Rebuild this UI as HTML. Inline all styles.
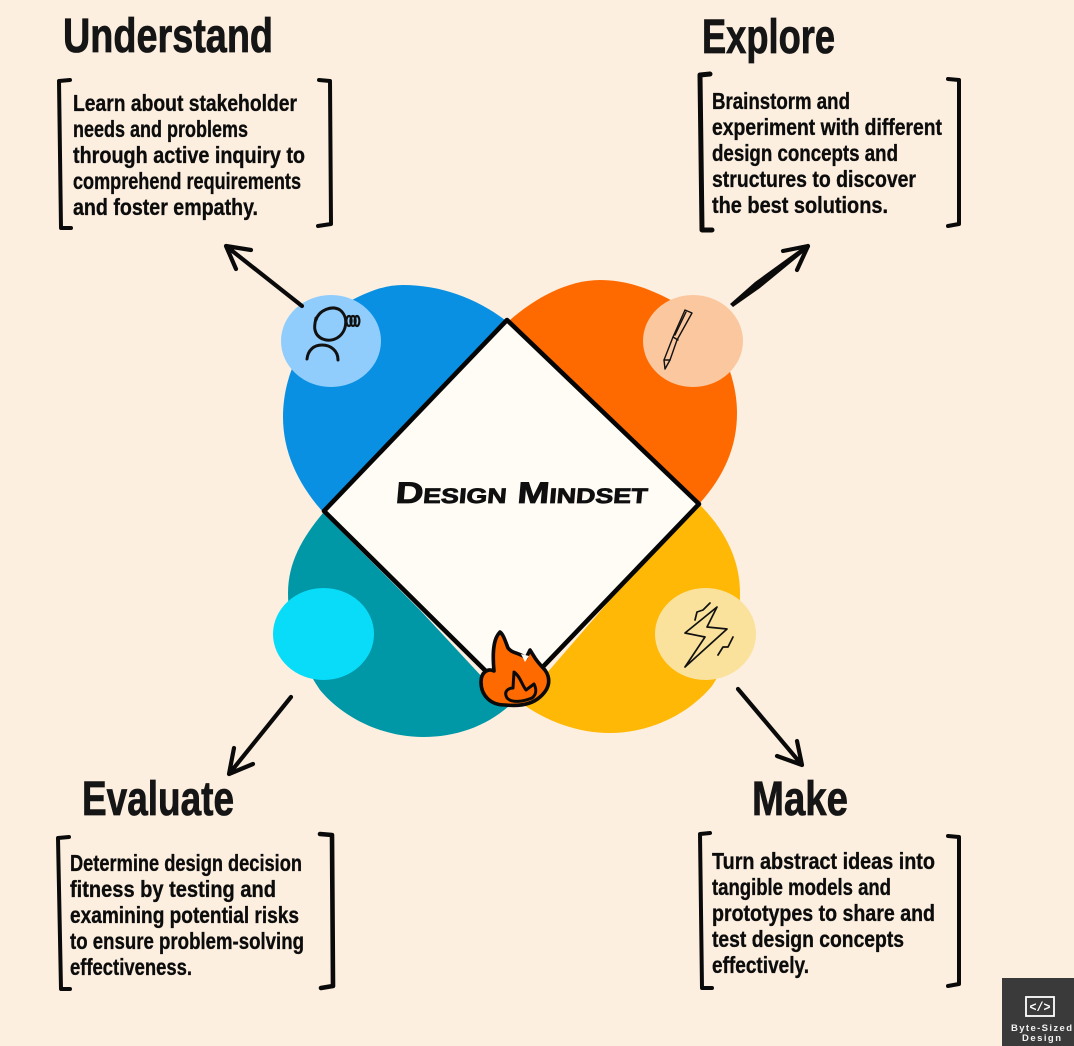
<!DOCTYPE html>
<html><head><meta charset="utf-8"><style>
html,body{margin:0;padding:0;background:#fcefe0}
svg{display:block}
.h{font-family:"Liberation Sans Narrow","Liberation Sans",sans-serif;font-weight:700;font-size:48px;fill:#151515;stroke:#151515;stroke-width:.8}
.b{font-family:"Liberation Sans Narrow","Liberation Sans",sans-serif;font-weight:700;font-size:23px;fill:#0c0c0c;stroke:#0c0c0c;stroke-width:.35}
.br{fill:none;stroke:#0a0a0a;stroke-width:4;stroke-linecap:round;stroke-linejoin:round}
.ar{fill:none;stroke:#0a0a0a;stroke-width:4.2;stroke-linecap:round;stroke-linejoin:round}
.ic{fill:none;stroke:#111;stroke-linecap:round;stroke-linejoin:round}
</style></head><body>
<svg xmlns="http://www.w3.org/2000/svg" width="1074" height="1046" viewBox="0 0 1074 1046">
<rect width="1074" height="1046" fill="#fcefe0"/>

<path d="M505 320C476 298 440 285 403 285C385 285 370 291 352 300C310 322 283 368 283 417C283 452 298 484 323 512L410 420Z" fill="#0a90e2"/>
<path d="M510 320C535 298 568 280 600 280C625 280 650 288 678 304C713 324 737 370 737 413C737 447 724 476 700 503L600 410Z" fill="#ff6a00"/>
<path d="M323 513C302 538 288 563 288 593C288 625 298 658 320 690C345 720 385 737 423 737C455 737 485 727 509 706L420 610Z" fill="#0097a7"/>
<path d="M700 505C725 530 740 560 740 593C740 625 732 655 712 686C685 718 645 733 610 733C578 733 548 722 521 703L610 600Z" fill="#ffb805"/>

<polygon points="507,320 699,504 513,698 324,511" fill="#fffbf5" stroke="#050505" stroke-width="4.6" stroke-linejoin="round"/>

<ellipse cx="331" cy="341" rx="50" ry="46" fill="#90cdfd"/>
<ellipse cx="693" cy="341" rx="50" ry="46" fill="#fbc79f"/>
<ellipse cx="323.5" cy="634" rx="50.5" ry="46" fill="#08dcf8"/>
<ellipse cx="705.5" cy="634" rx="50.5" ry="46" fill="#fae29c"/>

<g class="ic" stroke-width="3">
<path d="M316 320C319 310 332 305 340 310C349 317 347 332 337 338C328 343 317 339 315 330C314 326 315 323 316 318"/>
<path d="M307 359C308 350 314 345 322 345C331 345 338 351 338 360"/>
</g>
<g class="ic" stroke-width="2.2">
<ellipse cx="349" cy="321" rx="2.6" ry="5"/><ellipse cx="353" cy="321" rx="2.6" ry="5"/><ellipse cx="357" cy="321" rx="2.4" ry="5"/>
</g>
<g class="ic" stroke-width="1.4">
<path d="M685 310L692 313L677 340L670 360L665 369L664 360L673 337Z"/>
<path d="M673 337L678 340M664 360L670 360M686 312L675 335"/>
</g>
<g class="ic" stroke-width="1.7">
<path d="M717 607L707 627L727 629L685 667L705 637L685 633Z"/>
<path d="M695 620L697 612L703 610L710 603M718 655L723 647L728 647L733 637"/>
</g>

<path d="M500 632C494 638 492 650 494 671C488 668 481 672 481 682C481 695 490 705 505 705C515 706 530 706 540 697C548 690 550 683 548 676C546 669 541 667 535 658L530 650L526 658C518 652 513 654 508 648C505 640 503 634 500 632Z" fill="#ff6a00" stroke="#0a0a0a" stroke-width="3.6" stroke-linejoin="round"/>
<path d="M507 698C503 691 509 688 513 688L514 672C520 676 522 685 526 690L534 684C537 690 536 695 532 698C522 702 512 703 507 698Z" fill="#ff6a00" stroke="#0a0a0a" stroke-width="3" stroke-linejoin="round"/>
<path d="M521 654L529 656L525 662Z" fill="#fffbf5"/>

<text x="395" y="503" textLength="252" lengthAdjust="spacingAndGlyphs" transform="skewX(-5) translate(44 0)" font-family="'Liberation Sans',sans-serif" font-weight="700" font-size="30" fill="#0f0f0f" stroke="#0f0f0f" stroke-width=".8" style="font-variant:small-caps">Design Mindset</text>

<text class="h" x="63" y="52" textLength="210" lengthAdjust="spacingAndGlyphs">Understand</text>
<text class="h" x="702" y="53" textLength="133" lengthAdjust="spacingAndGlyphs">Explore</text>
<text class="h" x="82" y="815" textLength="152" lengthAdjust="spacingAndGlyphs">Evaluate</text>
<text class="h" x="752" y="815" textLength="96" lengthAdjust="spacingAndGlyphs">Make</text>

<path class="br" d="M70 80L59 81L61 228L71 228"/>
<path class="br" d="M319 80L330 81L331 224L318 226"/>
<path class="br" style="stroke-width:5" d="M710 74L700 75L702 230L712 230"/>
<path class="br" d="M948 79L959 80L959 224L948 226"/>
<path class="br" d="M69 837L58 838L61 989L70 989"/>
<path class="br" style="stroke-width:4.6" d="M320 834L332 835L333 986L321 988"/>
<path class="br" d="M710 833L700 834L702 988L712 988"/>
<path class="br" d="M948 836L959 837L959 984L948 986"/>

<g class="b">
<text x="73" y="111" textLength="224" lengthAdjust="spacingAndGlyphs">Learn about stakeholder</text>
<text x="73" y="137" textLength="175" lengthAdjust="spacingAndGlyphs">needs and problems</text>
<text x="73" y="163" textLength="232" lengthAdjust="spacingAndGlyphs">through active inquiry to</text>
<text x="73" y="189" textLength="228" lengthAdjust="spacingAndGlyphs">comprehend requirements</text>
<text x="73" y="215" textLength="185" lengthAdjust="spacingAndGlyphs">and foster empathy.</text>

<text x="712" y="109" textLength="138" lengthAdjust="spacingAndGlyphs">Brainstorm and</text>
<text x="712" y="135" textLength="230" lengthAdjust="spacingAndGlyphs">experiment with different</text>
<text x="712" y="161" textLength="186" lengthAdjust="spacingAndGlyphs">design concepts and</text>
<text x="712" y="187" textLength="204" lengthAdjust="spacingAndGlyphs">structures to discover</text>
<text x="712" y="213" textLength="176" lengthAdjust="spacingAndGlyphs">the best solutions.</text>

<text x="70" y="871" textLength="232" lengthAdjust="spacingAndGlyphs">Determine design decision</text>
<text x="70" y="897" textLength="206" lengthAdjust="spacingAndGlyphs">fitness by testing and</text>
<text x="70" y="923" textLength="229" lengthAdjust="spacingAndGlyphs">examining potential risks</text>
<text x="70" y="949" textLength="234" lengthAdjust="spacingAndGlyphs">to ensure problem-solving</text>
<text x="70" y="975" textLength="122" lengthAdjust="spacingAndGlyphs">effectiveness.</text>

<text x="712" y="869" textLength="223" lengthAdjust="spacingAndGlyphs">Turn abstract ideas into</text>
<text x="712" y="895" textLength="179" lengthAdjust="spacingAndGlyphs">tangible models and</text>
<text x="712" y="921" textLength="223" lengthAdjust="spacingAndGlyphs">prototypes to share and</text>
<text x="712" y="947" textLength="192" lengthAdjust="spacingAndGlyphs">test design concepts</text>
<text x="712" y="973" textLength="97" lengthAdjust="spacingAndGlyphs">effectively.</text>
</g>

<path class="ar" d="M302 306L226 246M226 246L251 250M226 246L236 269"/>
<polygon points="730,304 733,307 760,288 810,247 806,245 755,282" fill="#0a0a0a"/>
<path class="ar" d="M808 246L783 251M808 246L797 270"/>
<path class="ar" d="M291 697L229 774M229 774L234 748M229 774L253 764"/>
<path class="ar" d="M738 689L802 765M802 765L797 741M802 765L777 756"/>

<rect x="1002" y="978" width="72" height="68" fill="#3a3a3a"/>
<rect x="1026" y="997" width="28" height="19" fill="none" stroke="#fff" stroke-width="1.8"/>
<text x="1040" y="1011" text-anchor="middle" font-family="'Liberation Mono',monospace" font-weight="700" font-size="13" fill="#fff" textLength="21" lengthAdjust="spacingAndGlyphs">&lt;/&gt;</text>
<text x="1011" y="1031" font-family="'Liberation Sans',sans-serif" font-weight="700" font-size="9.5" fill="#f2f2f2" textLength="61">Byte-Sized</text>
<text x="1022" y="1041" font-family="'Liberation Sans',sans-serif" font-weight="700" font-size="9.5" fill="#f2f2f2" textLength="39">Design</text>
</svg>
</body></html>
